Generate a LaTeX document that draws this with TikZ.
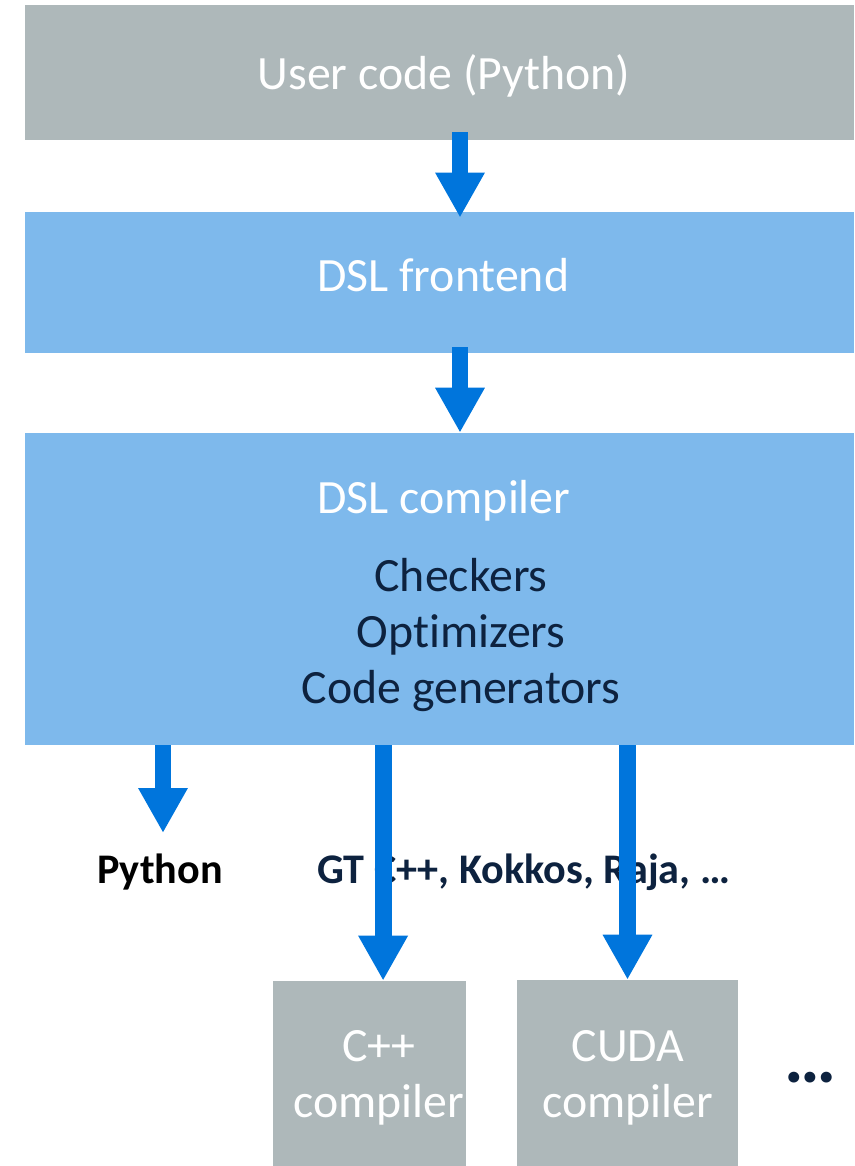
\documentclass[tikz,border=0pt]{standalone}
\usepackage{fontspec}
\setmainfont{Carlito}[Ligatures=NoCommon]
\usetikzlibrary{arrows.meta, positioning}
\definecolor{boxgrey}{HTML}{AEB8BA}
\definecolor{boxblue}{HTML}{7EB9EC}
\definecolor{flowblue}{HTML}{0075DC}
\definecolor{navy}{HTML}{0D223F}

\begin{document}
\begin{tikzpicture}[
		>={Triangle[width=33pt, length=32pt]},
		stage/.style={
			fill=boxblue, minimum width=20.725cm, inner sep=0pt, align=center,
			text=white, font=\fontsize{34}{40}\selectfont
		},
		tool/.style={fill=boxgrey, inner sep=0pt},
		boxtext/.style={align=center, text=white, font=\fontsize{34}{39.5}\selectfont},
		tasks/.style={align=center, text=navy, font=\fontsize{34}{39.8}\selectfont},
		backend/.style={font=\bfseries\fontsize{30}{36}\selectfont},
		arrow/.style={->, line width=12pt, flowblue}
		]
		
		% fix the page to the reference size
		\useasboundingbox (0,0) rectangle (21.35,29.15);
		
		% Pipeline stages
		\node[tool, minimum width=20.725cm, minimum height=3.375cm] (user) at (10.99,27.34) {};
		\node[boxtext] (usertext) at (11.1,27.25) {User code (Python)};
		\node[stage, minimum height=3.525cm] (front) at (10.99,22.09) {};
		\node[boxtext] (fronttext) at (11.08,22.27) {DSL frontend};
		\node[stage, minimum height=7.8cm] (comp) at (10.99,14.425) {};
		\node[boxtext] (comptitle) at (11.1,16.63) {DSL compiler};
		\node[tasks] (comptasks) at (11.525,13.28) {Checkers\\Optimizers\\Code generators};
		
		% Backends
		\node[backend, text=black] (py) at (4.0,7.35) {Python};
		\node[backend, text=navy] (gt) at (13.09,7.35) {GT C++, Kokkos, Raja, …};
		
		% Compilers
		\node[tool, minimum width=4.825cm, minimum height=4.625cm] (cpp) at (9.2375,2.3125) {};
		\node[boxtext] (cpptext) at (9.47,2.2) {C++\\compiler};
		\node[tool, minimum width=5.525cm, minimum height=4.65cm] (cuda) at (15.6875,2.325) {};
		\node[boxtext] (cudatext) at (15.7,2.2) {CUDA\\compiler};
		\node[text=navy, font=\bfseries\fontsize{52}{56}\selectfont] (more) at (20.25,2.2) {…};
		
		% --- Arrows ---
		\draw[arrow] ([xshift=5.1mm,yshift=2mm]user.south) -- ([xshift=5.1mm,yshift=-1.5mm]front.north);
		\draw[arrow] ([xshift=5.1mm,yshift=1.5mm]front.south) -- ([xshift=5.1mm]comp.north);
		
		\coordinate (pytip) at (4.075,8.325);
		\coordinate (cpptip) at ([xshift=3.4mm]cpp.north);
		\draw[arrow] (comp.south -| pytip) -- (pytip);
		\draw[arrow] (comp.south -| cpptip) -- (cpptip);
		\draw[arrow] (comp.south -| cuda.north) -- (cuda.north);
		
	\end{tikzpicture}
\end{document}
